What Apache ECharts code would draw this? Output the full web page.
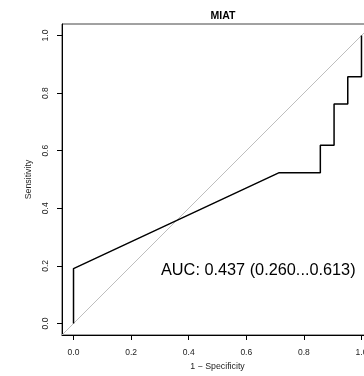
<!DOCTYPE html>
<html>
<head>
<meta charset="utf-8">
<script src="https://cdn.jsdelivr.net/npm/echarts@6/dist/echarts.min.js"></script>
<style>
  html, body {margin: 0; padding: 0; background: #fff;}
  #chart {width: 364px; height: 376px;}
</style>
</head>
<body>
<div id="chart"></div>
<script>
// ROC curve for MIAT (x = 1 - specificity, y = sensitivity)
const fpr = [0, 0, 0.7143, 0.8571, 0.8571, 0.9048, 0.9048, 0.9524, 0.9524, 1, 1];
const sens = [0, 0.1905, 0.5238, 0.5238, 0.619, 0.619, 0.7619, 0.7619, 0.8571, 0.8571, 1];
const diagonal = [-0.04, 1.04];
const tickValues = [0, 0.2, 0.4, 0.6, 0.8, 1.0];
const chartTitle = 'MIAT';
const aucText = 'AUC: 0.437 (0.260...0.613)';

const font = 'Liberation Sans, Arial, Helvetica, sans-serif';
const myChart = echarts.init(document.getElementById('chart'));

const axisCommon = {
  type: 'value',
  min: -0.04,
  max: 1.04,
  splitLine: {show: false},
  axisLine: {show: true, onZero: false, lineStyle: {color: '#000', width: 1}},
  axisTick: {show: true, inside: false, length: 5, customValues: tickValues, lineStyle: {color: '#000'}},
  axisLabel: {
    customValues: tickValues,
    formatter: v => v.toFixed(1),
    color: '#222',
    fontFamily: font,
    fontSize: 8.5
  },
  nameLocation: 'middle',
  nameTextStyle: {color: '#222', fontFamily: font, fontSize: 8.8}
};

myChart.setOption({
  animation: false,
  title: {
    text: chartTitle,
    left: 218,
    top: 6,
    textAlign: 'center',
    textStyle: {fontFamily: font, fontSize: 10.5, fontWeight: 'bold', color: '#000'}
  },
  grid: {
    left: 62,
    top: 24,
    width: 311,
    height: 311,
    outerBoundsMode: 'none',
    containLabel: false,
    show: true,
    borderColor: '#444',
    borderWidth: 1
  },
  xAxis: Object.assign({}, axisCommon, {
    name: '1 − Specificity',
    nameGap: 26,
    axisLabel: Object.assign({}, axisCommon.axisLabel, {margin: 13})
  }),
  yAxis: Object.assign({}, axisCommon, {
    name: 'Sensitivity',
    nameGap: 28,
    axisLabel: Object.assign({}, axisCommon.axisLabel, {rotate: 90, margin: 12})
  }),
  graphic: [{
    type: 'text',
    left: 161,
    top: 263,
    style: {text: aucText, fontFamily: font, fontSize: 16.3, fill: '#000'}
  }],
  series: [
    {
      name: 'reference',
      type: 'line',
      data: diagonal.map(v => [v, v]),
      symbol: 'none',
      lineStyle: {color: '#bebebe', width: 1},
      silent: true
    },
    {
      name: 'ROC',
      type: 'line',
      data: fpr.map((x, i) => [x, sens[i]]),
      symbol: 'none',
      lineStyle: {color: '#000', width: 1.5}
    }
  ]
});
</script>
</body>
</html>
